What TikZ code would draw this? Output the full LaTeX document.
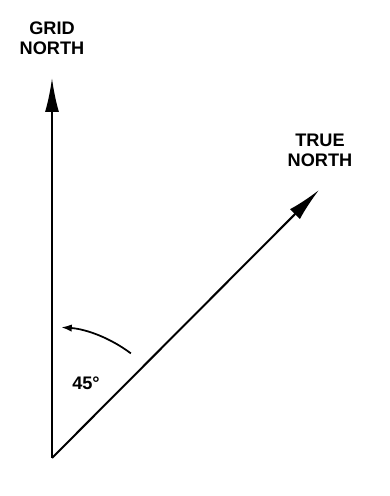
\documentclass[tikz,border=0pt]{standalone}
\usepackage{fontspec}
\setmainfont{Liberation Sans}
\usetikzlibrary{arrows.meta,positioning}

\begin{document}
\begin{tikzpicture}[
    x=0.03cm, y=0.03cm,
    axis/.style={-{Latex[length=1.02cm, width=0.42cm]}, line width=1.7pt, draw=black},
    sweep/.style={-{Latex[length=0.32cm, width=0.22cm]}, line width=1.5pt, draw=black},
    lbl/.style={font=\bfseries\fontsize{15.5}{17}\selectfont, align=center, inner sep=0pt}
]
    \useasboundingbox (0,0) rectangle (390,496);

    % Origin and the two directions
    \coordinate (origin) at (52,38);
    \coordinate (grid) at (52,418);
    \coordinate (true) at (319,306);

    % Labels
    \node[lbl] (gridlbl) at (52,458) {GRID\\NORTH};
    \node[lbl] (truelbl) at (320,346) {TRUE\\NORTH};
    \node[lbl] (angle) at (86,113) {45°};

    % Arrows
    \draw[axis] (origin) -- (grid);
    \draw[axis] (origin) -- (true);
    \draw[sweep] ([shift={(53:3.93cm)}]origin) arc[start angle=53, end angle=86, radius=3.93cm];

\end{tikzpicture}
\end{document}
